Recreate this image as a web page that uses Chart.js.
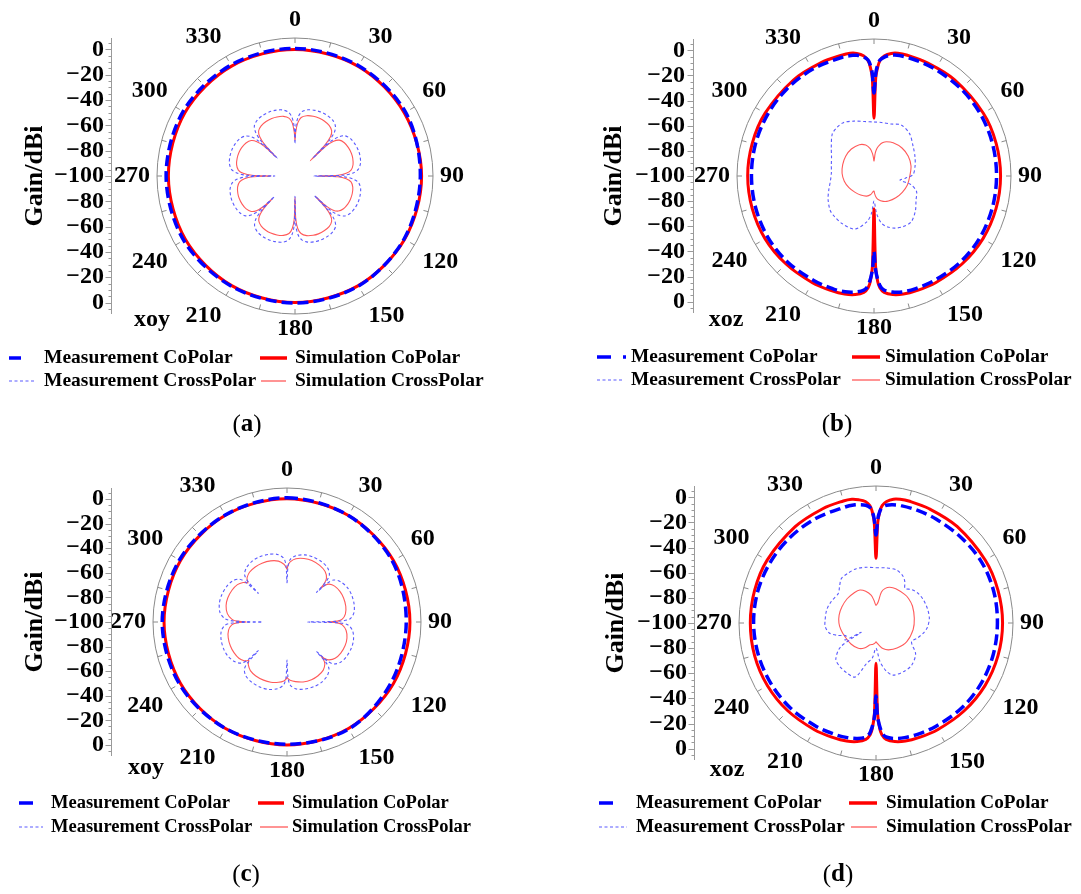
<!DOCTYPE html>
<html><head><meta charset="utf-8">
<script src="https://cdn.jsdelivr.net/npm/chart.js@4.4.0/dist/chart.umd.min.js"></script>
<style>
html,body{margin:0;padding:0;background:#fff;}
#wrap{position:relative;width:1081px;height:894px;overflow:hidden;background:#fff;}
canvas{position:absolute;}
</style></head>
<body><div id="wrap">
<canvas id="ca" width="540" height="447" style="left:0px;top:0px"></canvas>
<canvas id="cb" width="541" height="447" style="left:540px;top:0px"></canvas>
<canvas id="cc" width="540" height="447" style="left:0px;top:447px"></canvas>
<canvas id="cd" width="541" height="447" style="left:540px;top:447px"></canvas>
</div>
<script>
// ---------------- DATA (gain in dBi at angle in degrees) ----------------
const R_MIN = -100, R_MAX = 9;
const Y_TICKS = [0, -20, -40, -60, -80, -100];
const ANGLE_TICKS = [0, 30, 60, 90, 120, 150, 180, 210, 240, 270, 300, 330];
const LEGEND_NAMES = ['Measurement CoPolar', 'Simulation CoPolar', 'Measurement CrossPolar', 'Simulation CrossPolar'];

// (a) xoy
const A_CO_ANG = [0, 30, 60, 90, 120, 150, 180, 210, 240, 270, 300, 330];
const A_CO_SIM = [0, 0, -0.3, 0, 0, 0, 0, 0, 0, 0, 0.3, 0.2];
const A_CO_MEAS = [0.8, 0.5, 0.8, -1, -0.5, 0.3, 0.3, 0.5, 1.5, 1.8, 2, 1.2];
const A_X_ANG = [0,1,3,6,11,17,23,28,34,39,42,44,
 45,46,48,51,56,62,68,73,79,84,87,89,
 90,91,93,96,101,107,113,118,124,129,132,134,
 135,136,138,141,146,152,158,163,169,174,177,179,
 180,181,183,186,191,197,203,208,214,219,222,224,
 225,226,228,231,236,242,248,253,259,264,267,269,
 270,271,273,276,281,287,293,298,304,309,312,314,
 315,316,318,321,326,332,338,343,349,354,357,359];
const A_X_SIM = [-72,-65,-58,-53.5,-51.5,-50.7,-50.5,-50.8,-51.8,-54,-58,-66,
 -83,-66,-59,-55,-53,-52.2,-52,-52.3,-53.3,-55.5,-59.5,-66,
 -82,-66,-59.5,-55.5,-53.5,-52.7,-52.5,-52.8,-53.8,-56,-60,-66,
 -77,-65,-58,-54,-51.8,-51,-50.7,-51,-52,-54.3,-58.5,-66,
 -83,-66,-58.5,-54.3,-52.2,-51.3,-51,-51.3,-52.3,-54.5,-58.5,-65,
 -75,-65,-59,-55.5,-53.5,-52.7,-52.5,-52.8,-53.8,-56,-60,-66,
 -81,-66,-59,-55,-53,-52.2,-52,-52.3,-53.3,-55.5,-59.5,-66,
 -79,-66,-58.5,-54.3,-52.2,-51.3,-51,-51.2,-52,-54,-58,-65];
const A_X_MEAS = [-74,-61,-53.5,-49,-46.7,-45.8,-45.5,-45.8,-46.8,-49.3,-53.5,-61,
 -80,-61,-54,-49.5,-47.2,-46.3,-46,-46.3,-47.3,-49.8,-54,-61,
 -85,-61,-54,-49.5,-47.2,-46.3,-46,-46.3,-47.3,-49.8,-54,-61,
 -78,-61,-53.5,-49,-46.7,-45.8,-45.5,-45.8,-46.8,-49.3,-53.5,-61,
 -84,-61,-53.5,-49,-46.7,-45.8,-45.5,-45.8,-46.8,-49.3,-53.5,-61,
 -77,-61.5,-54.5,-50,-47.7,-46.8,-46.5,-46.8,-47.8,-50.3,-54.5,-61.5,
 -84,-61,-54,-49.5,-47.2,-46.3,-46,-46.3,-47.3,-49.8,-54,-61,
 -80,-61,-53.5,-49,-46.7,-45.8,-45.5,-45.8,-46.8,-49.3,-53.5,-61];

// (b) xoz
const B_CO_SIM_ANG = [0,1,2,3,5,8,11,15,25,40,60,75,90,105,120,135,150,160,166,171,175,177,178,179,180,181,182,183,185,189,194,200,210,225,240,255,270,285,300,320,335,345,349,352,355,357,358,359];
const B_CO_SIM = [-54,-22,-13,-8,-4,-1.5,-0.5,-0.3,-0.5,-0.2, 0.3,0.6,0.7,0.5,0,-1,-2,-2.7,-3.2,-4.5, -7,-11,-16,-28,-74,-28,-16,-11,-7,-4.5, -3.2,-2.7,-2,-1,0,0.3,0.5,0.3,0,-0.3, -0.5,-0.5,-0.5,-1.5,-4,-8,-13,-22];
const B_CO_MEAS_ANG = [0,1,2,3,5,8,12,20,30,45,60,75,90,105,120,135,150,160,166,171,175,177,179,180,181,183,185,189,194,200,210,225,240,255,270,285,300,315,330,345,350,352,355,357,358,359];
const B_CO_MEAS = [-34,-18,-11,-7.5,-5,-3,-2,-2,-2,-2, -2,-2.3,-2.5,-2.5,-2.5,-3,-4,-4.5,-5,-6.5, -9,-13,-25,-40,-25,-13,-9,-6.5,-5,-4.5, -4,-3,-2.5,-2.5,-2.5,-2.3,-2.2,-2,-2,-2.2, -2.5,-3,-5,-7.5,-11,-18];
const B_X_SIM_ANG = [0,3,6,10,15,20,30,45,60,75,90,105,120,135,150,160,170,175,178,180,182,185,190,200,215,230,245,260,275,290,305,320,335,345,352,356,358];
const B_X_SIM = [-88,-82,-78,-75,-72.5,-71,-69.5,-68.5,-68.5,-69.5,-71.5,-72.5,-74,-75.5,-77,-78.5,-81,-83.5,-86,-88,-88,-87,-85,-83,-81.5,-80,-78,-76,-74.5,-73.5,-72.5,-72,-72.5,-74.5,-78,-82,-85];
const B_X_MEAS_ANG = [0,8,18,28,40,53,65,77,88,94,99,103,110,120,130,141,150,158,165,171,176,180,184,189,200,214,225,232,243,253,263,274,284,294,304,315,322,330,340,350];
const B_X_MEAS = [-57,-57,-56.5,-54,-56,-61,-64,-66.5,-69,-75,-79,-70,-64,-61.4,-57,-53,-53.5,-55.3,-58,-62,-70,-80,-70,-63,-55,-54.4,-55,-55.7,-59,-62.4,-65,-66,-65,-63,-59,-53,-51.5,-51,-53.5,-56];

// (c) xoy
const C_CO_ANG = [0, 30, 60, 90, 120, 150, 180, 210, 240, 270, 300, 330];
const C_CO_SIM = [0.3, 0, 0, 0, 0, 0, 0, 0, 0, 0, 0, 0.2];
const C_CO_MEAS = [1, 0, -1, -3, -2, 0.5, -0.5, 0, 1, 1.5, 1, 0.5];
const C_X_ANG = [0,1,3,8,15,22,30,37,42,44,
 45,46,48,53,60,67,75,82,87,89,
 90,91,93,98,105,112,120,127,132,134,
 135,136,138,143,150,157,165,172,177,179,
 180,181,183,188,195,202,210,217,222,224,
 225,226,228,233,240,247,255,262,267,269,
 270,271,273,278,285,292,300,307,312,314,
 315,316,318,323,330,337,345,352,357,359];
const C_X_SIM = [-57,-54,-51,-48,-46.5,-46,-46.8,-48.5,-52,-56,
 -61,-57,-54,-51.5,-50.3,-50,-50.5,-52,-55,-59,
 -67,-59,-55,-51.5,-49.5,-49,-49.5,-51,-54,-57,
 -61,-57,-54,-51,-49.5,-49,-49.5,-51,-52.5,-54,
 -55,-53.5,-52,-50.5,-49.3,-49,-49.3,-50.5,-53,-55,
 -56,-54.5,-53,-51,-50.2,-50,-50.5,-52,-55,-59,
 -67,-59,-55,-51,-48.7,-48,-48.3,-49.5,-52,-54,
 -55,-53.5,-51.5,-49.3,-48.3,-48,-48.5,-50,-53,-55.5];
const C_X_MEAS = [-68,-55,-49,-45.5,-43.5,-43,-43.5,-45,-48.5,-54,
 -66,-55,-49,-45.5,-43.5,-43,-43.5,-45,-48.5,-56,
 -83,-57,-50,-46,-44,-43.5,-44,-45.5,-49,-54,
 -66,-55,-49,-45.5,-43.5,-43,-43.5,-45,-48.5,-55,
 -69,-55,-49,-45.2,-43.2,-42.7,-43.2,-44.7,-48.2,-54,
 -67,-55.5,-50,-46.5,-44.5,-44,-44.5,-46,-49.5,-56,
 -80,-57,-49.5,-45,-43,-42.5,-43,-44.5,-48,-54,
 -67,-55,-48.5,-45,-43,-42.5,-43,-44.5,-48,-54];

// (d) xoz
const D_CO_SIM_ANG = B_CO_SIM_ANG;
const D_CO_SIM = [-48.5,-20,-11,-6.5,-3,-0.5,0.3,0.5,0.3,0.3, 0.3,0.5,0.7,0.5,0,-1,-2,-2.7,-3.2,-4.5, -7,-11,-16,-28,-68,-28,-16,-11,-7,-4.5, -3.2,-2.7,-2,-1,-0.3,0,0,0,0,0, 0.3,0.5,0.3,-1,-3,-6.5,-11,-20];
const D_CO_MEAS_ANG = B_CO_MEAS_ANG;
const D_CO_MEAS = [-30,-17,-11,-8,-6,-5,-4.5,-4.5,-4.5,-4, -3,-3,-3.4,-3.4,-3.5,-4,-5,-5.5,-6,-7, -9,-13,-25,-42,-25,-13,-9,-7,-6,-5.5, -5,-4,-3.5,-3,-2.6,-2.6,-3,-3.5,-4,-4.5, -4.5,-5,-6,-8,-11,-17];
const D_X_SIM_ANG = [0,3,6,10,15,21,30,45,53,65,83,100,121,140,155,165,172,177,180,183,188,195,205,215,230,246,260,270,282,295,310,325,334,342,350,355,358];
const D_X_SIM = [-86,-85,-83,-75,-71.5,-69.5,-68.5,-67.8,-67.6,-68,-69.3,-70,-71.4,-74,-76.4,-79,-82,-84,-85,-84,-83,-82,-78,-75.4,-74,-73,-71.5,-70.5,-70,-70,-70,-70.3,-70.8,-73.5,-77.5,-82,-85];
const D_X_MEAS_ANG = [0,10,21,30,35,40,47,55,64,75,85,95,102,110,118,128,140,150,162,168,174,180,186,193,201,210,220,228,236,238,241,247,252,258,266,272,285,296,308,315,322,331,340,350];
const D_X_MEAS = [-56,-55.5,-54.7,-57,-60,-64,-61,-59,-58,-57.5,-57.4,-59,-61.5,-65,-68,-60,-56,-55.5,-56.4,-61,-69,-80,-72,-67,-54,-54,-55,-57,-66,-86,-72,-74,-68,-62,-59.5,-59.4,-59.4,-60.5,-61.9,-59,-55.2,-54.5,-54,-55];

// ---------------- STYLE / LAYOUT ----------------
const DEG_LABELS = Array.from({length: 360}, (_, i) => String(i));
function series(ang, val) {
  const d = new Array(360).fill(null);
  ang.forEach((a, i) => { d[a % 360] = val[i]; });
  return d;
}
const STYLE = {
  measCo: {borderColor: '#0000ff', borderWidth: 3.5, borderDash: [11, 5], tension: 0.33},
  simCo: {borderColor: '#ff0000', borderWidth: 3, tension: 0.33},
  measX: {borderColor: '#5a5aff', borderWidth: 1.1, borderDash: [3, 2.5], tension: 0.3},
  simX: {borderColor: '#ff5a5a', borderWidth: 1.1, tension: 0.3}
};
const SERIF = '"Liberation Serif", "Times New Roman", serif';

const LAYOUT = {
  a: {ox: 0, oy: 0, w: 540, h: 447, cx: 295, cy: 176, R: 138, axisX: 111, labX: 104, gainX: 35,
      plane: 'xoy', planeX: 152, planeY: 320, rows: [358, 381], dash: [9, 35, [12, 14]], red: [260, 287],
      dot: [9, 35], pink: [261, 286], t1: 44, t2: 295, legFont: 19.5, cap: 'a', capX: 247, capY: 425},
  b: {ox: 540, oy: 0, w: 541, h: 447, cx: 874, cy: 176, R: 137, axisX: 693, labX: 685, gainX: 614,
      plane: 'xoz', planeX: 726, planeY: 320, rows: [357, 380], dash: [597, 626, [14, 12]], red: [852, 880],
      dot: [597, 623], pink: [852, 880], t1: 631, t2: 885, legFont: 19.3, cap: 'b', capX: 837, capY: 425},
  c: {ox: 0, oy: 447, w: 540, h: 447, cx: 287, cy: 622, R: 134, axisX: 111, labX: 104, gainX: 35,
      plane: 'xoy', planeX: 146, planeY: 768, rows: [803, 827], dash: [19, 45, [14, 14]], red: [258, 284],
      dot: [19, 43], pink: [260, 288], t1: 51, t2: 292, legFont: 18.5, cap: 'c', capX: 246, capY: 875},
  d: {ox: 540, oy: 447, w: 541, h: 447, cx: 876, cy: 623, R: 137, axisX: 694, labX: 687, gainX: 616,
      plane: 'xoz', planeX: 727, planeY: 770, rows: [803, 827], dash: [599, 625, [14, 14]], red: [849, 877],
      dot: [599, 627], pink: [851, 877], t1: 636, t2: 886, legFont: 19.2, cap: 'd', capX: 838, capY: 875}
};

function decor(L) {
  return {
    id: 'decor',
    beforeDatasetsDraw(chart) {
      const s = chart.scales.r, ctx = chart.ctx;
      ctx.save();
      ctx.strokeStyle = '#8a8a8a'; ctx.lineWidth = 1;
      ctx.beginPath(); ctx.arc(s.xCenter, s.yCenter, s.drawingArea, 0, 2 * Math.PI); ctx.stroke();
      for (let a = 0; a < 360; a += 15) {
        const p0 = s.getPointPosition(a, s.drawingArea);
        const p1 = s.getPointPosition(a, s.drawingArea - 5);
        ctx.beginPath(); ctx.moveTo(p0.x, p0.y); ctx.lineTo(p1.x, p1.y); ctx.stroke();
      }
      ctx.restore();
    },
    afterDraw(chart) {
      const s = chart.scales.r, ctx = chart.ctx;
      const cx = s.xCenter, cy = s.yCenter, R = s.drawingArea;
      ctx.save();
      ctx.fillStyle = '#000';
      ctx.font = 'bold 24px ' + SERIF;
      // angle labels (anchored like Chart.js point labels)
      ANGLE_TICKS.forEach(a => {
        const g = a === 0 ? 6 : a === 180 ? 3 : (a === 90 || a === 270) ? 7 : 9;
        const p = s.getPointPosition(a, R + g);
        ctx.textAlign = (a === 0 || a === 180) ? 'center' : (a < 180 ? 'left' : 'right');
        ctx.textBaseline = (a === 90 || a === 270) ? 'middle' : ((a > 270 || a < 90) ? 'bottom' : 'top');
        ctx.fillText(String(a), p.x, p.y);
      });
      ctx.textBaseline = 'middle';
      // vertical gain axis
      const ax = L.axisX - L.ox + 0.5;
      ctx.strokeStyle = '#9a9a9a'; ctx.lineWidth = 1;
      ctx.beginPath(); ctx.moveTo(ax, cy - R); ctx.lineTo(ax, cy + R); ctx.stroke();
      for (let v = R_MIN; v <= R_MAX; v += 5) {
        const d = s.getDistanceFromCenterForValue(v);
        const len = (v % 20 === 0) ? 6 : 3;
        [cy - d, cy + d].forEach(y => {
          ctx.beginPath(); ctx.moveTo(ax - len, Math.round(y) + 0.5); ctx.lineTo(ax, Math.round(y) + 0.5); ctx.stroke();
        });
      }
      ctx.textAlign = 'right';
      Y_TICKS.forEach(v => {
        const d = s.getDistanceFromCenterForValue(v);
        const t = v < 0 ? '\u2212' + String(-v) : String(v);
        const lx = L.labX - L.ox;
        ctx.fillText(t, lx, cy - d);
        if (d > 0.5) ctx.fillText(t, lx, cy + d);
      });
      // Gain/dBi
      ctx.save();
      ctx.translate(L.gainX - L.ox, cy);
      ctx.rotate(-Math.PI / 2);
      ctx.textAlign = 'center';
      ctx.font = 'bold 26px ' + SERIF;
      ctx.fillText('Gain/dBi', 0, 0);
      ctx.restore();
      // plane label
      ctx.textAlign = 'center';
      ctx.font = 'bold 24px ' + SERIF;
      ctx.fillText(L.plane, L.planeX - L.ox, L.planeY - L.oy);
      // legend
      const r1 = L.rows[0] - L.oy, r2 = L.rows[1] - L.oy;
      const seg = (x0, x1, y, color, w, dash) => {
        ctx.save(); ctx.strokeStyle = color; ctx.lineWidth = w; ctx.setLineDash(dash || []);
        ctx.beginPath(); ctx.moveTo(x0 - L.ox, y); ctx.lineTo(x1 - L.ox, y); ctx.stroke(); ctx.restore();
      };
      seg(L.dash[0], L.dash[1], r1, STYLE.measCo.borderColor, 3.5, L.dash[2]);
      seg(L.red[0], L.red[1], r1, STYLE.simCo.borderColor, 3.5);
      seg(L.dot[0], L.dot[1], r2, STYLE.measX.borderColor, 1.1, [3, 2.5]);
      seg(L.pink[0], L.pink[1], r2, STYLE.simX.borderColor, 1.3);
      ctx.font = 'bold ' + L.legFont + 'px ' + SERIF;
      ctx.textAlign = 'left';
      ctx.fillText(LEGEND_NAMES[0], L.t1 - L.ox, r1);
      ctx.fillText(LEGEND_NAMES[1], L.t2 - L.ox, r1);
      ctx.fillText(LEGEND_NAMES[2], L.t1 - L.ox, r2);
      ctx.fillText(LEGEND_NAMES[3], L.t2 - L.ox, r2);
      // caption (x)
      const fReg = '25px ' + SERIF, fBold = 'bold 25px ' + SERIF;
      ctx.font = fReg; const wp = ctx.measureText('(').width;
      ctx.font = fBold; const wl = ctx.measureText(L.cap).width;
      const total = wp * 2 + wl;
      let x = L.capX - L.ox - total / 2; const y = L.capY - L.oy;
      ctx.textAlign = 'left';
      ctx.font = fReg; ctx.fillText('(', x, y); x += wp;
      ctx.font = fBold; ctx.fillText(L.cap, x, y); x += wl;
      ctx.font = fReg; ctx.fillText(')', x, y);
      ctx.restore();
    }
  };
}

function makeChart(key, sets) {
  const L = LAYOUT[key];
  const canvas = document.getElementById('c' + key);
  const pad = {
    left: L.cx - L.R - L.ox,
    top: L.cy - L.R - L.oy,
    right: L.w - (L.cx - L.ox + L.R),
    bottom: L.h - (L.cy - L.oy + L.R)
  };
  return new Chart(canvas, {
    type: 'radar',
    data: {
      labels: DEG_LABELS,
      datasets: [
        Object.assign({label: LEGEND_NAMES[0], data: series(sets.measCo[0], sets.measCo[1])}, STYLE.measCo),
        Object.assign({label: LEGEND_NAMES[1], data: series(sets.simCo[0], sets.simCo[1])}, STYLE.simCo),
        Object.assign({label: LEGEND_NAMES[2], data: series(sets.measX[0], sets.measX[1])}, STYLE.measX),
        Object.assign({label: LEGEND_NAMES[3], data: series(sets.simX[0], sets.simX[1])}, STYLE.simX)
      ]
    },
    options: {
      responsive: false, animation: false, devicePixelRatio: 1, events: [],
      spanGaps: true,
      layout: {padding: pad},
      elements: {point: {radius: 0, hoverRadius: 0}, line: {fill: false, borderCapStyle: 'butt'}},
      plugins: {legend: {display: false}, tooltip: {enabled: false}},
      scales: {
        r: {
          min: R_MIN, max: R_MAX, startAngle: 0, beginAtZero: false,
          grid: {display: false}, angleLines: {display: false},
          ticks: {display: false}, pointLabels: {display: false}
        }
      }
    },
    plugins: [decor(L)]
  });
}

makeChart('a', {measCo: [A_CO_ANG, A_CO_MEAS], simCo: [A_CO_ANG, A_CO_SIM], measX: [A_X_ANG, A_X_MEAS], simX: [A_X_ANG, A_X_SIM]});
makeChart('b', {measCo: [B_CO_MEAS_ANG, B_CO_MEAS], simCo: [B_CO_SIM_ANG, B_CO_SIM], measX: [B_X_MEAS_ANG, B_X_MEAS], simX: [B_X_SIM_ANG, B_X_SIM]});
makeChart('c', {measCo: [C_CO_ANG, C_CO_MEAS], simCo: [C_CO_ANG, C_CO_SIM], measX: [C_X_ANG, C_X_MEAS], simX: [C_X_ANG, C_X_SIM]});
makeChart('d', {measCo: [D_CO_MEAS_ANG, D_CO_MEAS], simCo: [D_CO_SIM_ANG, D_CO_SIM], measX: [D_X_MEAS_ANG, D_X_MEAS], simX: [D_X_SIM_ANG, D_X_SIM]});
</script>
</body></html>
